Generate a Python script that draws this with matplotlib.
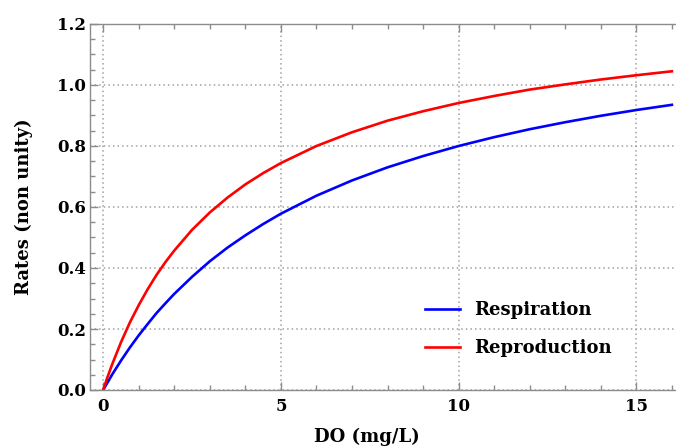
import numpy as np
import matplotlib.pyplot as plt
from matplotlib.ticker import MultipleLocator

# valeurs
do_mgl = [0, 0.1, 0.25, 0.5, 0.75, 1, 1.25, 1.5, 1.75, 2, 2.5, 3, 3.5, 4, 4.5,
          5, 6, 7, 8, 9, 10, 11, 12, 13, 14, 15, 16]
respiration = [0, 0.020, 0.050, 0.096, 0.139, 0.179, 0.216, 0.252, 0.284,
               0.315, 0.371, 0.422, 0.467, 0.507, 0.544, 0.578, 0.637, 0.687,
               0.730, 0.767, 0.800, 0.829, 0.855, 0.878, 0.899, 0.918, 0.935]
reproduction = [0, 0.035, 0.083, 0.156, 0.221, 0.278, 0.330, 0.377, 0.419,
                0.457, 0.525, 0.582, 0.631, 0.674, 0.711, 0.744, 0.800, 0.845,
                0.883, 0.914, 0.941, 0.964, 0.985, 1.002, 1.018, 1.032, 1.045]

plt.rcParams['font.family'] = ['DejaVu Serif']
plt.rcParams['font.weight'] = 'bold'

fig = plt.figure(figsize=(6.76, 4.46), dpi=100)
ax = fig.add_axes([90 / 676, 56 / 446, 589 / 676, 366 / 446])

ax.plot(do_mgl, respiration, color='#0000ff', lw=1.9, label='Respiration')
ax.plot(do_mgl, reproduction, color='#ff0000', lw=1.9, label='Reproduction')

ax.set_xlim(-0.37, 16.2)
ax.set_ylim(0, 1.2)
ax.xaxis.set_major_locator(MultipleLocator(5))
ax.xaxis.set_minor_locator(MultipleLocator(1))
ax.yaxis.set_major_locator(MultipleLocator(0.2))
ax.yaxis.set_minor_locator(MultipleLocator(0.05))
ax.yaxis.set_major_formatter(plt.FuncFormatter(lambda v, p: f'{v:.1f}'))

grey = '#8c8c8c'
for s in ax.spines.values():
    s.set_color(grey)
    s.set_linewidth(1.0)
ax.spines['right'].set_visible(False)

ax.tick_params(which='both', direction='in', color=grey, top=True,
               labelsize=12, width=1.0)
ax.tick_params(which='major', length=6, pad=6)
ax.tick_params(which='minor', length=3.5)
ax.tick_params(axis='y', which='major', pad=3)

ax.grid(True, which='major', color='#a0a0a0', linestyle=(0, (1, 2)), lw=1.1)
ax.set_axisbelow(True)

ax.set_xlabel('DO (mg/L)', fontsize=13, fontweight='bold')
ax.xaxis.set_label_coords((367 - 90) / 589, -38 / 366)
ax.set_ylabel('Rates (non unity)', fontsize=13, fontweight='bold')
ax.yaxis.set_label_coords(-57 / 589, 0.5)

ax.legend(loc='center left', bbox_to_anchor=((409 - 90) / 589, (390 - 329) / 366),
          frameon=False, fontsize=13, handlelength=1.95, labelspacing=1.1,
          handletextpad=0.75)

fig.savefig('out.png', dpi=100)
